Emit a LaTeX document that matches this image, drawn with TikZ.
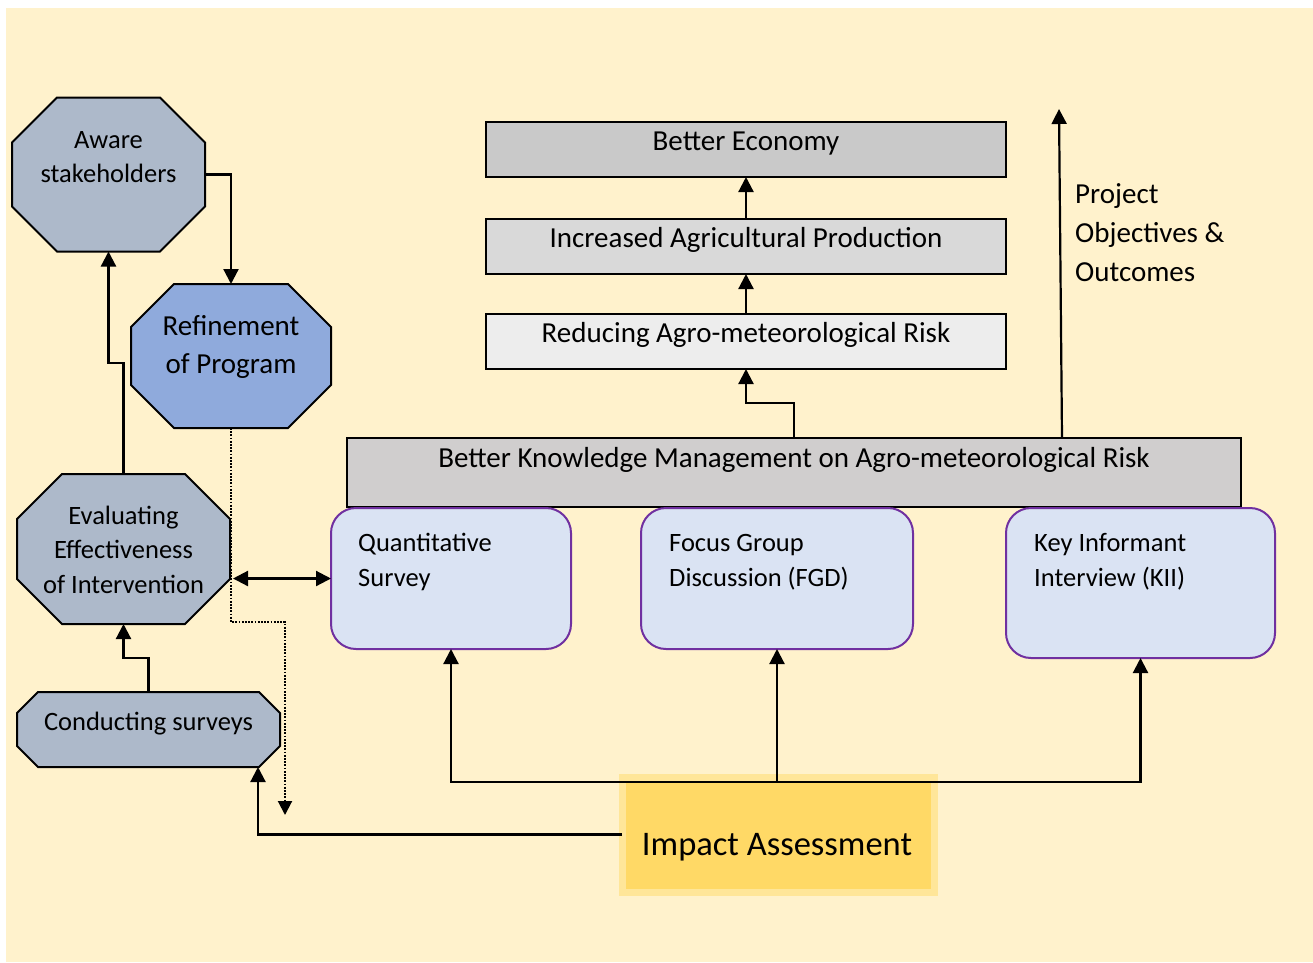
\documentclass[tikz,border=0pt]{standalone}
\usepackage{fontspec}
\setmainfont{Carlito}
\usetikzlibrary{arrows.meta,calc}
\definecolor{cream}{HTML}{FFF2CC}
\definecolor{econfill}{HTML}{C9C9C9}
\definecolor{agrifill}{HTML}{D9D9D9}
\definecolor{riskfill}{HTML}{EDEDED}
\definecolor{knowfill}{HTML}{D0CECE}
\definecolor{octgray}{HTML}{ADB9CA}
\definecolor{octblue}{HTML}{8FAADC}
\definecolor{lblue}{HTML}{DAE3F3}
\definecolor{purp}{HTML}{7030A0}
\definecolor{impfill}{HTML}{FFD966}
\definecolor{impglow}{HTML}{FFE699}
\pgfdeclarelayer{bg}
\pgfdeclarelayer{mid}
\pgfsetlayers{bg,mid,main}
\newcommand\octshape[3]{%
  \begin{pgfonlayer}{mid}
  \filldraw[fill=#3,draw=black,line width=2pt,line join=miter]
    ([xshift=#2]#1.north west) -- ([xshift=-#2]#1.north east)
    -- ([yshift=-#2]#1.north east) -- ([yshift=#2]#1.south east)
    -- ([xshift=-#2]#1.south east) -- ([xshift=#2]#1.south west)
    -- ([yshift=#2]#1.south west) -- ([yshift=-#2]#1.north west) -- cycle;
  \end{pgfonlayer}}
\tikzset{
  octbox/.style={draw=none,fill=none,inner sep=0pt,outer sep=0pt},
  rbox/.style={draw=black,line width=2pt,inner sep=0pt,outer sep=0pt},
  mbox/.style={draw=purp,fill=lblue,line width=2pt,rounded corners=25pt,inner sep=0pt,outer sep=0pt},
  bigtxt/.style={inner sep=0pt,anchor=base,font=\fontsize{29}{38}\selectfont},
  smalltxt/.style={inner sep=0pt,anchor=base,font=\fontsize{26.5}{34.5}\selectfont},
  arr/.style={line width=2.2pt,-{Triangle[width=15pt,length=15pt]}},
  arrboth/.style={line width=2.2pt,{Triangle[width=15pt,length=15pt]}-{Triangle[width=15pt,length=15pt]}},
  dotarr/.style={line width=2pt,dash pattern=on 1.8pt off 1.4pt,-{Triangle[width=14pt,length=14pt]}},
}
\begin{document}
\begin{tikzpicture}[x=1pt,y=-1pt]
\useasboundingbox (0,0) rectangle (1313,962);
\begin{pgfonlayer}{bg}
\fill[cream] (6,8) rectangle (1313,962);
\end{pgfonlayer}

% right column boxes
\node[rbox,fill=econfill,minimum width=520pt,minimum height=55pt] (econ) at (746,149.5) {};
\node[rbox,fill=agrifill,minimum width=520pt,minimum height=55pt] (agri) at (746,246.5) {};
\node[rbox,fill=riskfill,minimum width=520pt,minimum height=55pt] (risk) at (746,341.5) {};
\node[rbox,fill=knowfill,minimum width=894pt,minimum height=69pt] (know) at (794,472.5) {};
\node[bigtxt] (econtxt) at (746,150) {Better Economy};
\node[bigtxt] (agritxt) at (746,247) {Increased Agricultural Production};
\node[bigtxt] (risktxt) at (746,342) {Reducing Agro-meteorological Risk};
\node[bigtxt] (knowtxt) at (794,467) {Better Knowledge Management on Agro-meteorological Risk};

% method boxes
\node[mbox,minimum width=240pt,minimum height=141pt] (quant) at (451,578.5) {};
\node[mbox,minimum width=272pt,minimum height=141pt] (fgd) at (777,578.5) {};
\node[mbox,minimum width=269pt,minimum height=150pt] (kii) at (1140.5,583) {};
\node[smalltxt,anchor=base west,align=left] (quanttxt) at (358,586) {Quantitative\\Survey};
\node[smalltxt,anchor=base west,align=left] (fgdtxt) at (669,586) {Focus Group\\Discussion (FGD)};
\node[smalltxt,anchor=base west,align=left] (kiitxt) at (1034,586) {Key Informant\\Interview (KII)};

% impact
\node[rbox,fill=impfill,draw=impglow,line width=7pt,minimum width=312pt,minimum height=115pt] (impact) at (778,834.5) {};
\node[inner sep=0pt,anchor=base,font=\fontsize{34.5}{40}\selectfont] (imptxt) at (777,855) {Impact Assessment};

% project label
\coordinate (projtop) at (1059,109);
\node[bigtxt,anchor=base west,align=left,font=\fontsize{29}{39}\selectfont] (projtxt) at (1075,281) {Project\\Objectives \&\\Outcomes};

% octagons
\node[octbox,minimum width=193pt,minimum height=154pt] (aware) at (108.5,174.5) {};
\octshape{aware}{45pt}{octgray}
\node[smalltxt,align=center,font=\fontsize{26.5}{34}\selectfont] (awaretxt) at (108.5,182) {Aware\\stakeholders};
\node[octbox,minimum width=200pt,minimum height=144pt] (refine) at (231,356) {};
\octshape{refine}{43pt}{octblue}
\node[bigtxt,align=center] (refinetxt) at (231,373) {Refinement\\of Program};
\node[octbox,minimum width=213pt,minimum height=150pt] (eval) at (123.5,549) {};
\octshape{eval}{45pt}{octgray}
\node[smalltxt,align=center] (evaltxt) at (123.5,593) {Evaluating\\Effectiveness\\of Intervention};
\node[octbox,minimum width=263pt,minimum height=75pt] (conduct) at (148.5,729.5) {};
\octshape{conduct}{21pt}{octgray}
\node[smalltxt] (conducttxt) at (148.5,730) {Conducting surveys};

% connectors
\draw[arr] (agri.north) -- (econ.south);
\draw[arr] (risk.north) -- (agri.south);
\draw[arr] (know.north) -- ++(0,-35) -| (risk.south);
\draw[arr] ([xshift=268pt]know.north) -- (projtop);
\coordinate (hub) at (777,782);
\draw[arr] (hub) -- (fgd.south);
\draw[arr] (hub) -| (quant.south);
\draw[arr] (hub) -| (kii.south);
\draw[arr] (impact.west) -| ([xshift=-22pt]conduct.south east);
\coordinate (dotend) at (285,815);
\draw[dotarr] (refine.south) -- ++(0,194) -| (dotend);
\draw[arrboth] ([xshift=3pt]eval.east |- quant.west) -- (quant.west);
\draw[arr] (aware.east) -| (refine.north);
\draw[arr] (eval.north) -- ++(0,-111) -| (aware.south);
\draw[arr] (conduct.north) -- ++(0,-34) -| (eval.south);
\end{tikzpicture}
\end{document}
